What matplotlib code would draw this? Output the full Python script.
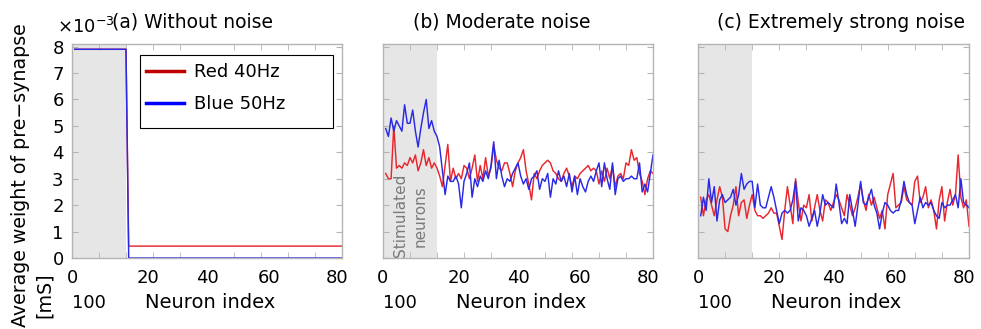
import numpy as np
import matplotlib
matplotlib.use('Agg')
import matplotlib.pyplot as plt
from matplotlib.lines import Line2D
from matplotlib.patches import Rectangle

matplotlib.rcParams['font.family'] = 'DejaVu Sans'
matplotlib.rcParams['axes.unicode_minus'] = True

# neuron index 1..100, stimulated neurons 1..20
neuron = np.arange(1, 101)
stim_end = 20

# (a) without noise  [x1e-3 mS]
a_red = [7.9] * 20 + [0.45] * 80
a_blue = [7.9] * 20 + [0.0] * 80

# (b) moderate noise
b_red = [3.2, 3.0, 3.0, 5.0, 3.4, 3.5, 3.4, 3.6, 3.5, 3.8,
         3.6, 3.9, 3.3, 3.6, 4.1, 3.5, 3.8, 3.4, 3.6, 3.4,
         3.1, 2.7, 3.5, 4.3, 2.9, 3.4, 3.0, 3.2, 3.0, 3.5,
         3.4, 3.0, 3.4, 3.9, 2.9, 3.5, 3.0, 3.8, 3.1, 3.4,
         4.3, 3.7, 3.4, 3.3, 3.6, 3.6, 3.2, 2.7, 3.3, 3.6,
         3.8, 4.1, 3.3, 2.8, 2.2, 3.2, 3.0, 3.3, 3.5, 3.6,
         3.7, 3.6, 3.3, 3.2, 3.0, 2.9, 3.2, 3.4, 3.1, 2.7,
         3.1, 3.0, 3.2, 3.3, 3.4, 3.5, 3.3, 3.4, 3.3, 2.8,
         3.3, 2.9, 3.4, 3.0, 3.5, 2.7, 3.1, 3.2, 3.0, 3.6,
         3.5, 4.1, 3.7, 3.8, 3.2, 2.9, 2.4, 3.0, 3.3, 3.2]
b_blue = [4.9, 4.6, 5.3, 4.8, 5.2, 5.0, 4.8, 5.8, 5.1, 5.1,
          5.6, 4.8, 4.2, 4.9, 5.5, 6.0, 4.9, 5.2, 4.8, 4.6,
          4.2, 3.3, 2.4, 3.1, 2.9, 2.9, 3.1, 2.8, 1.9, 2.9,
          3.2, 3.6, 2.3, 3.0, 2.7, 3.1, 2.9, 3.3, 3.0, 3.5,
          4.4, 3.0, 3.7, 3.1, 2.7, 3.0, 2.9, 3.2, 3.4, 3.6,
          3.1, 2.8, 3.0, 2.6, 3.0, 3.1, 3.3, 2.6, 3.0, 2.9,
          3.2, 2.3, 3.0, 2.8, 3.3, 2.9, 3.1, 2.7, 3.2, 2.5,
          3.1, 2.4, 3.0, 2.7, 2.5, 2.9, 3.1, 2.9, 3.3, 3.6,
          2.7, 3.6, 3.0, 2.6, 3.6, 2.4, 3.0, 3.1, 2.9, 3.0,
          3.0, 3.1, 3.0, 3.0, 3.6, 2.5, 2.8, 2.5, 3.2, 3.9]

# (c) extremely strong noise
c_red = [2.3, 1.6, 2.2, 2.4, 2.0, 1.6, 2.2, 2.7, 2.3, 1.1,
         1.0, 1.6, 2.0, 2.7, 1.6, 2.1, 2.2, 1.5, 2.0, 2.4,
         1.8, 1.6, 1.6, 1.5, 1.6, 1.7, 1.9, 1.7, 1.7, 1.2,
         0.7, 1.8, 2.7, 2.0, 1.3, 3.0, 2.1, 1.4, 2.0, 1.9,
         2.4, 1.4, 1.9, 2.4, 1.8, 1.4, 2.2, 2.1, 1.8, 2.1,
         2.4, 2.2, 1.9, 1.6, 2.4, 2.0, 1.6, 1.9, 2.3, 2.8,
         2.2, 1.8, 2.4, 2.0, 2.3, 1.9, 1.5, 1.8, 1.1, 2.4,
         2.8, 3.2, 1.9, 2.0, 2.1, 2.7, 2.2, 2.1, 2.0, 2.9,
         3.1, 2.1, 2.3, 2.7, 1.9, 2.2, 1.8, 1.1, 2.2, 2.7,
         1.4, 2.1, 2.6, 2.0, 2.4, 3.9, 2.3, 1.9, 2.2, 1.2]
c_blue = [1.6, 2.3, 1.8, 3.0, 2.1, 2.7, 1.4, 2.2, 2.4, 2.1,
          2.2, 2.3, 2.6, 2.0, 2.4, 3.2, 2.6, 2.8, 2.9, 2.9,
          1.9, 2.8, 2.0, 1.9, 1.9, 2.3, 2.7, 2.3, 1.8, 1.3,
          1.7, 1.8, 1.7, 1.8, 2.2, 2.9, 1.4, 1.9, 1.8, 1.6,
          1.2, 1.5, 1.8, 1.2, 1.7, 2.4, 2.0, 2.1, 2.0, 1.9,
          2.8, 2.1, 1.3, 1.5, 1.3, 2.4, 1.8, 1.2, 2.0, 2.9,
          2.1, 2.0, 2.3, 2.6, 2.0, 1.7, 1.1, 1.7, 2.1, 2.0,
          1.8, 1.7, 1.8, 1.8, 2.2, 2.9, 2.4, 2.1, 2.0, 1.3,
          1.8, 2.3, 1.9, 2.1, 2.0, 2.1, 1.8, 1.6, 1.5, 2.1,
          1.9, 2.0, 2.0, 2.2, 2.4, 1.9, 3.0, 2.1, 2.0, 1.9]

titles = ['(a) Without noise', '(b) Moderate noise', '(c) Extremely strong noise']
xlabels = ['0', '20', '40', '60', '80']
xlabel_pos = [0, 28, 50, 73, 98]

RED = '#e8262e'
BLUE = '#2a2ae6'
SPINE = '#b4b4b4'
FS = 13

W, H = 981, 329
fig = plt.figure(figsize=(W / 100, H / 100), dpi=100)

def box(l, t, r, b):
    return [l / W, 1 - b / H, (r - l) / W, (b - t) / H]

boxes = [box(72, 44, 342, 258), box(383, 44, 653, 258), box(698, 44, 969, 258)]
series = [(a_red, a_blue), (b_red, b_blue), (c_red, c_blue)]
title_x = [112, 413, 717]

for i, (pos, (red, blue)) in enumerate(zip(boxes, series)):
    ax = fig.add_axes(pos)
    ax.axvspan(0, stim_end, color='#e6e6e6', lw=0, zorder=0)
    ax.plot(neuron, red, color=RED, lw=1.05, zorder=2)
    ax.plot(neuron, blue, color=BLUE, lw=1.05, zorder=2)
    ax.set_xlim(0, 100)
    ax.set_ylim(0, 8.1)

    ax.set_xticks(np.arange(0, 101, 10), minor=True)
    ax.set_xticks(xlabel_pos, xlabels)
    ax.tick_params(axis='x', which='major', length=0, pad=8, labelsize=FS)
    ax.tick_params(axis='x', which='minor', direction='in', length=4,
                   top=True, color=SPINE)
    ax.set_yticks(range(9))
    ax.tick_params(axis='y', direction='in', length=4, right=True,
                   color=SPINE, labelsize=FS, pad=6)
    if i > 0:
        ax.set_yticklabels([])
    for s in ax.spines.values():
        s.set_color(SPINE)
        s.set_linewidth(1.0)

    tr = ax.get_xaxis_transform()
    ax.text(0, -0.235, '100', transform=tr, ha='left', va='baseline',
            fontsize=FS)
    ax.text(0.51, -0.235, 'Neuron index', transform=ax.transAxes,
            ha='center', va='baseline', fontsize=FS + 1)

    fig.text(title_x[i] / W, 1 - 28 / H, titles[i], ha='left',
             va='baseline', fontsize=FS + 0.5)

    if i == 0:
        # legend box (MATLAB style, wider than its contents)
        ax.add_patch(Rectangle((0.252, 0.607), 0.715, 0.342,
                               transform=ax.transAxes, facecolor='white',
                               edgecolor='black', lw=0.8, zorder=4))
        handles = [Line2D([], [], color='#c00000', lw=2.5),
                   Line2D([], [], color='#0000ff', lw=2.5)]
        leg = ax.legend(handles, ['Red 40Hz', 'Blue 50Hz'], loc='center left',
                        bbox_to_anchor=(0.275, 0.794), frameon=False,
                        borderpad=0, borderaxespad=0, handlelength=2.1,
                        handletextpad=0.55, labelspacing=0.75, fontsize=FS)
        leg.set_zorder(5)
    if i == 1:
        ax.text(10, 1.6, 'Stimulated\nneurons', rotation=90, ha='center',
                va='center', color='#7a7a7a', fontsize=11, linespacing=1.4)

# exponent of the y axis
fig.text(57 / W, 1 - 33 / H, r'$\times10^{-3}$', ha='left', va='baseline',
         fontsize=FS)

# y label, two lines
fig.text(11 / W, 1 - 327 / H, 'Average weight of pre\u2212synapse',
         rotation=90, ha='left', va='bottom', fontsize=FS + 0.7)
fig.text(35 / W, 1 - 318 / H, '[mS]',
         rotation=90, ha='left', va='bottom', fontsize=FS + 0.7)

fig.savefig('out.png', dpi=100)
